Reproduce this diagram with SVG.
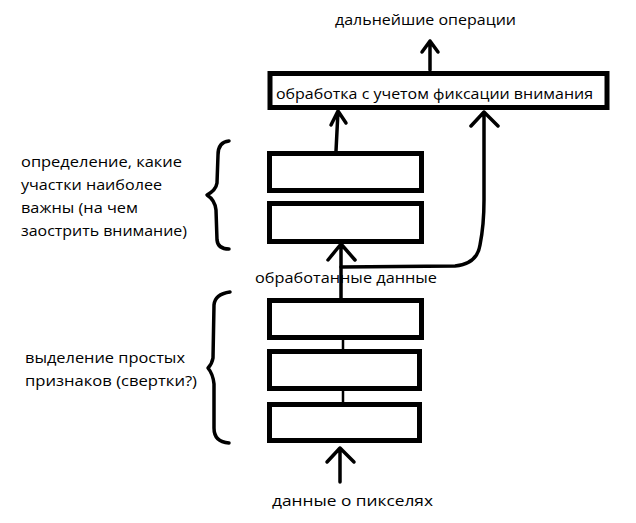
<svg xmlns="http://www.w3.org/2000/svg" width="636" height="523" viewBox="0 0 636 523">
<defs>
<style>
.box{fill:#fff;stroke:#000;stroke-width:5}
.ln{fill:none;stroke:#000;stroke-width:3.5;stroke-linecap:round;stroke-linejoin:round}
.thin{fill:none;stroke:#000;stroke-width:2.5}
.br{fill:none;stroke:#000;stroke-width:3.5;stroke-linecap:round;stroke-linejoin:round}
text{font-family:"Open Sans","Noto Sans","Liberation Sans",sans-serif;font-size:15px;fill:#000}
</style>
</defs>
<rect width="636" height="523" fill="#fff"/>
<g id="connectors">
<path class="ln" d="M340 482 L340 448 M327 462 L340 448 L354 462"/>
<path class="thin" d="M343 402 L343 391 M343 349 L343 339"/>
<path class="ln" d="M341 298 L341 244 M328 260 L341 244 L355 260"/>
<path class="ln" d="M341 267 L455 266 Q477 264 480 245 Q484 225 484 200 L484 112 M471 126 L484 112 L498 126"/>
<path class="ln" d="M336 151 L338 111 M331 125 L338 111 L346 123"/>
<path class="ln" d="M430 70 L430 41 M422 52 L430 41 L438 52"/>
</g>
<g id="node-top">
<rect class="box" x="270" y="73.5" width="337" height="34"/>
<text x="276" y="99" textLength="317" lengthAdjust="spacingAndGlyphs">обработка с учетом фиксации внимания</text>
</g>
<g id="node-a1"><rect class="box" x="269.5" y="153.5" width="152" height="37"/></g>
<g id="node-a2"><rect class="box" x="269.5" y="203.5" width="152" height="38"/></g>
<g id="node-b1"><rect class="box" x="269.5" y="300.5" width="152" height="37"/></g>
<g id="node-b2"><rect class="box" x="269.5" y="351.5" width="150" height="37"/></g>
<g id="node-b3"><rect class="box" x="269.5" y="404.5" width="150" height="36"/></g>
<g id="braces">
<path class="br" d="M229 141 Q218 142 218 155 L217 183 Q216 190 207 195 Q215 200 216 210 L217 240 Q218 249 229 249"/>
<path class="br" d="M230 292 Q215 294 214 305 L213 358 Q212 364 208 368 Q213 374 214 384 L214 428 Q214 442 229 443"/>
</g>
<g id="labels">
<text x="335" y="25" textLength="181" lengthAdjust="spacingAndGlyphs">дальнейшие операции</text>
<text x="255" y="283" textLength="182" lengthAdjust="spacingAndGlyphs">обработанные данные</text>
<text x="272" y="506" textLength="161" lengthAdjust="spacingAndGlyphs">данные о пикселях</text>
<text x="21" y="167" textLength="161" lengthAdjust="spacingAndGlyphs">определение, какие</text>
<text x="21" y="190" textLength="141" lengthAdjust="spacingAndGlyphs">участки наиболее</text>
<text x="21" y="213" textLength="117" lengthAdjust="spacingAndGlyphs">важны (на чем</text>
<text x="21" y="236" textLength="166" lengthAdjust="spacingAndGlyphs">заострить внимание)</text>
<text x="25" y="363" textLength="160" lengthAdjust="spacingAndGlyphs">выделение простых</text>
<text x="25" y="386" textLength="172" lengthAdjust="spacingAndGlyphs">признаков (свертки?)</text>
</g>
</svg>
